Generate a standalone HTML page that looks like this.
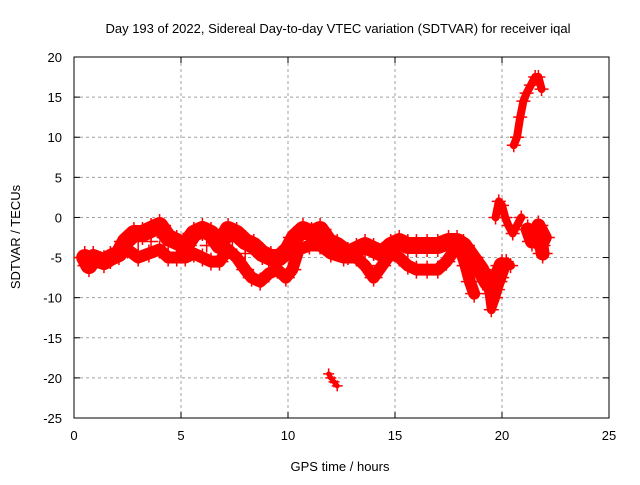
<!DOCTYPE html>
<html><head><meta charset="utf-8"><style>
body{margin:0;background:#fff}
svg text{font-family:"Liberation Sans",sans-serif;font-size:13px;fill:#000}
</style></head><body>
<svg id="chart" width="640" height="480" xmlns="http://www.w3.org/2000/svg">
<rect width="640" height="480" fill="#fff"/>
<text x="338" y="33" text-anchor="middle" font-size="14">Day 193 of 2022, Sidereal Day-to-day VTEC variation (SDTVAR) for receiver iqal</text>
<text transform="translate(20,237) rotate(-90)" text-anchor="middle" font-size="14">SDTVAR / TECUs</text>
<text x="340" y="471" text-anchor="middle" font-size="14">GPS time / hours</text>
<g id="grid"></g><g id="axes"></g><g id="marks"></g>
</svg>
<script>
const xTicks=[0,5,10,15,20,25];
const yTicks=[20,15,10,5,0,-5,-10,-15,-20,-25];
const trackUpper=[[0.5,-5],[0.7,-6],[0.9,-5],[1.4,-5.5],[1.7,-5],[2.1,-4.5],[2.4,-3],[2.8,-2],[3.2,-2],[3.6,-1.5],[4.0,-1],[4.4,-2.5],[4.8,-3],[5.2,-3.5],[5.6,-2],[6.0,-1.5],[6.4,-2],[6.8,-3.5],[7.2,-1.5],[7.6,-2],[8.0,-3],[8.4,-3.5],[8.8,-4.5],[9.2,-5],[9.6,-5],[10.0,-4],[10.3,-2.5],[10.7,-1.5],[11.1,-2],[11.5,-1.5],[11.9,-3],[12.3,-3.5],[12.8,-4.5],[13.2,-4],[13.6,-3.5],[14.0,-4],[14.4,-4.5],[14.8,-3.5],[15.2,-3],[15.6,-3.5],[16.0,-3.5],[16.5,-3.5],[17.0,-3.5],[17.5,-3],[17.9,-3],[18.2,-3.5],[18.6,-5],[19.0,-6.5],[19.3,-8],[19.6,-9],[19.8,-7.5],[20.0,-6]];
const trackLower=[[2.5,-4],[3.0,-5],[3.5,-4.5],[4.0,-4],[4.4,-5],[4.8,-5],[5.2,-5],[5.6,-4.5],[6.0,-5],[6.4,-5.5],[6.8,-5.5],[7.2,-4],[7.6,-5],[8.0,-6.5],[8.3,-7.5],[8.7,-8],[9.1,-7],[9.5,-6.5],[9.9,-7.5],[10.2,-6.5],[10.5,-4],[11.0,-3.5],[11.5,-3.5],[12.0,-4.5],[12.6,-5],[13.2,-5],[13.6,-6],[14.0,-7.5],[14.4,-6],[14.8,-4.5],[15.2,-5],[15.6,-6],[16.0,-6.5],[16.5,-6.5],[17.0,-6.5],[17.4,-5.5],[17.8,-4],[18.0,-3.5],[18.3,-6],[18.5,-8],[18.7,-9.5]];
const trackMid=[[3.0,-3],[3.6,-3],[4.2,-3.5],[5.4,-3],[6.2,-3.5],[7.4,-3],[8.0,-4.5],[11.0,-2.5],[11.6,-2.5]];
const trackDip=[[19.2,-7],[19.4,-9.5],[19.5,-11.5],[19.7,-10],[19.9,-8]];
const trackSpike=[[19.7,0],[19.85,2],[20.0,1.5],[20.15,0],[20.3,-1],[20.5,-2],[20.7,-1],[20.9,0]];
const trackBlob=[[20.2,-5.5],[20.4,-6]];
const trackRight=[[21.2,-1.5],[21.4,-3],[21.6,-2],[21.8,-3.5],[22.0,-2.5],[21.7,-1],[21.9,-4.5]];
const trackRise=[[20.55,9],[20.7,10],[20.85,12.5],[21.0,14.5],[21.15,15.5],[21.35,16.5],[21.55,17.5],[21.7,17.5],[21.85,16]];
const trackLow=[[11.9,-19.5],[12.0,-20],[12.15,-20.5],[12.3,-21]];
const X0=74,X1=609,Y0=418,Y1=57;
const xs=t=>X0+(t-0)/25*(X1-X0);
const ys=v=>Y0-(v+25)/45*(Y0-Y1);
const NS="http://www.w3.org/2000/svg";
function mk(tag,attrs,parent){const e=document.createElementNS(NS,tag);for(const k in attrs)e.setAttribute(k,attrs[k]);parent.appendChild(e);return e;}
const grid=document.getElementById('grid'),axes=document.getElementById('axes'),marks=document.getElementById('marks');
xTicks.forEach(t=>{const x=xs(t);
 if(t>0&&t<25){const l=mk('line',{x1:x,x2:x,y1:Y1,y2:Y0,stroke:'#a0a0a0','stroke-dasharray':'3,3'},grid);}
 mk('line',{x1:x,x2:x,y1:Y0,y2:Y0-6,stroke:'#000'},axes);mk('line',{x1:x,x2:x,y1:Y1,y2:Y1+6,stroke:'#000'},axes);
 const tx=mk('text',{x:x,y:Y0+22,'text-anchor':'middle'},axes);tx.textContent=t;
 });
yTicks.forEach(v=>{const y=ys(v);
 if(v>-25&&v<20){const l=mk('line',{x1:X0,x2:X1,y1:y,y2:y,stroke:'#a0a0a0','stroke-dasharray':'3,3'},grid);}
 mk('line',{x1:X0,x2:X0+6,y1:y,y2:y,stroke:'#000'},axes);mk('line',{x1:X1,x2:X1-6,y1:y,y2:y,stroke:'#000'},axes);
 const tx=mk('text',{x:X0-12,y:y+5,'text-anchor':'end'},axes);tx.textContent=v;
 });
const frame=mk('rect',{x:X0,y:Y1,width:X1-X0,height:Y0-Y1,fill:'none',stroke:'#000'},axes);

function track(arr,w,name,line){
 if(line){const pl=mk('polyline',{points:arr.map(p=>xs(p[0])+','+ys(p[1])).join(' '),fill:'none',stroke:'#f00','stroke-width':w,'stroke-linejoin':'round','stroke-linecap':'round'},marks);
 }
 arr.forEach(p=>{const x=xs(p[0]),y=ys(p[1]);
  const g=mk('path',{d:`M${x-w/2-3} ${y}H${x+w/2+3}M${x} ${y-w/2-3}V${y+w/2+3}`,stroke:'#f00','stroke-width':1.5},marks);
  });
}
track(trackUpper,17,'series-upper',true);
track(trackLower,12,'series-lower',true);
track(trackMid,8,'series-mid',false);
track(trackDip,9,'series-dip',true);
track(trackSpike,8,'series-spike',true);
track(trackBlob,9,'series-blob',true);
track(trackRight,14,'series-right',true);
track(trackRise,8,'series-rise',true);
track(trackLow,5,'series-low',true);
</script>
</body></html>
